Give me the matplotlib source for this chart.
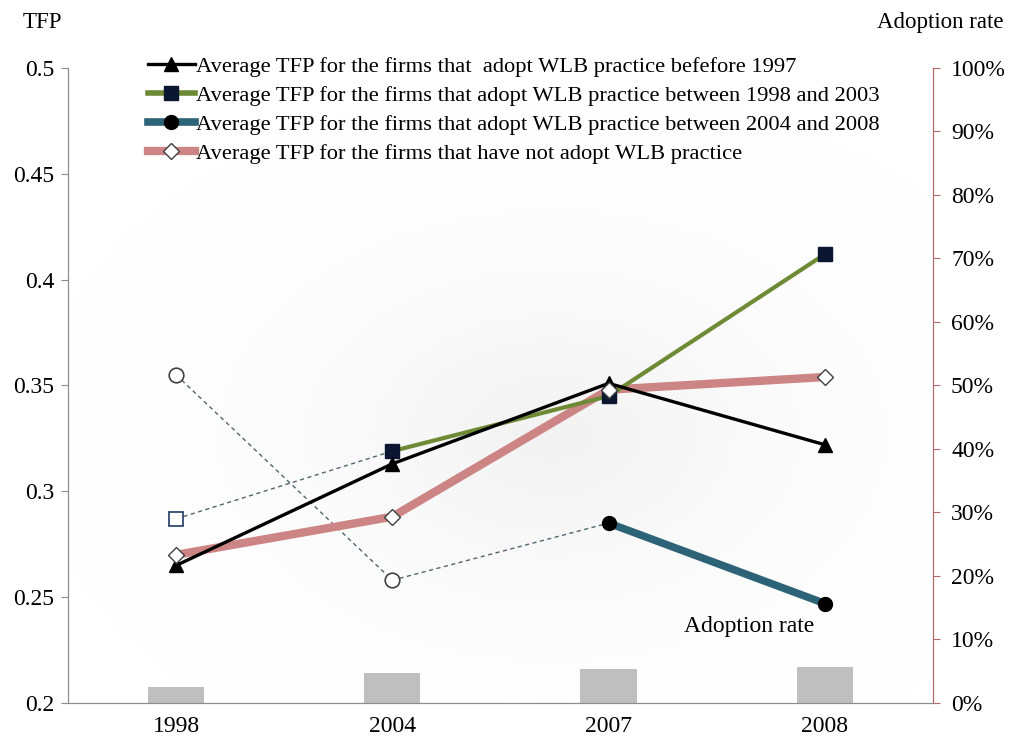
import numpy as np
import matplotlib
matplotlib.use("Agg")
import matplotlib.pyplot as plt
from matplotlib.lines import Line2D

plt.rcParams['font.family'] = ['Liberation Serif', 'DejaVu Serif']

years = ["1998", "2004", "2007", "2008"]
adoption_rate = [2.5, 4.7, 5.3, 5.7]  # percent

tfp_before_1997 = [0.265, 0.313, 0.351, 0.322]
tfp_1998_2003 = [0.287, 0.319, 0.345, 0.412]
tfp_2004_2008 = [0.355, 0.258, 0.285, 0.247]
tfp_not_adopt = [0.270, 0.288, 0.348, 0.354]

labels = [
    "Average TFP for the firms that  adopt WLB practice befefore 1997",
    "Average TFP for the firms that adopt WLB practice between 1998 and 2003",
    "Average TFP for the firms that adopt WLB practice between 2004 and 2008",
    "Average TFP for the firms that have not adopt WLB practice",
]

x = np.arange(len(years))

fig = plt.figure(figsize=(10.11, 7.47), dpi=100)
ax2 = fig.add_axes([0.0673, 0.0589, 0.8555, 0.8501])
ax = ax2.twinx()
ax.set_zorder(ax2.get_zorder() + 1)
ax.patch.set_visible(False)

# soft grey glow behind the plot area
gx, gy = np.meshgrid(np.linspace(0, 1, 300), np.linspace(0, 1, 300))
r = np.sqrt(((gx - 0.56) / 0.60) ** 2 + ((gy - 0.42) / 0.55) ** 2)
shade = 1 - 0.05 * np.clip(1 - r, 0, 1) ** 1.8
ax2.imshow(np.dstack([shade] * 3), extent=(0, 1, 0, 1), transform=ax2.transAxes,
           aspect='auto', zorder=0, interpolation='bilinear', origin='lower')

# adoption-rate bars on the right-hand scale
ax2.bar(x, adoption_rate, width=0.26, color='#bfbfbf', zorder=2)
ax2.set_ylim(0, 100)
ax2.set_xlim(-0.5, 3.5)
ax2.yaxis.tick_right()
ax2.yaxis.set_label_position('right')
ax2.set_yticks(np.arange(0, 101, 10))
ax2.set_yticklabels([f"{v}%" for v in range(0, 101, 10)])

# TFP lines on the left-hand scale
ax.yaxis.tick_left()
ax.set_ylim(0.2, 0.5)
ax.set_xlim(-0.5, 3.5)
ax.set_yticks([0.2, 0.25, 0.3, 0.35, 0.4, 0.45, 0.5])
ax.set_yticklabels(["0.2", "0.25", "0.3", "0.35", "0.4", "0.45", "0.5"])

dash_col = '#50666e'
ax.plot(x[:2], tfp_1998_2003[:2], ls=(0, (3, 2.5)), lw=1, color=dash_col, zorder=3)
ax.plot(x[:3], tfp_2004_2008[:3], ls=(0, (3, 2.5)), lw=1, color=dash_col, zorder=3)

pink = '#cc8584'
ax.plot(x, tfp_not_adopt, color=pink, lw=6, solid_capstyle='butt', zorder=4)
ax.plot(x[1:], tfp_1998_2003[1:], color='#6f8a35', lw=3, zorder=5)
ax.plot(x[2:], tfp_2004_2008[2:], color='#2c6377', lw=5.5, zorder=5)
ax.plot(x, tfp_before_1997, color='black', lw=2.4, zorder=6)

ax.plot(x[1:], tfp_1998_2003[1:], ls='none', marker='s', ms=10, mfc='#0b1630',
        mec='#0b1630', zorder=7)
ax.plot(x[:1], tfp_1998_2003[:1], ls='none', marker='s', ms=10, mfc='white',
        mec='#1f3a60', mew=1.2, zorder=7)
ax.plot(x[2:], tfp_2004_2008[2:], ls='none', marker='o', ms=10, mfc='black',
        mec='black', zorder=7)
ax.plot(x[:2], tfp_2004_2008[:2], ls='none', marker='o', ms=10.5, mfc='white',
        mec='#404040', mew=1.2, zorder=7)
ax.plot(x, tfp_before_1997, ls='none', marker='^', ms=10, mfc='black',
        mec='black', zorder=8)
ax.plot(x, tfp_not_adopt, ls='none', marker='D', ms=8, mfc='white',
        mec='#404040', mew=1.0, zorder=9)

# axes styling
for a in (ax, ax2):
    a.spines['top'].set_visible(False)
ax.spines['left'].set_color('#8c8c8c')
ax.spines['right'].set_color('#b56b6b')
ax.spines['bottom'].set_color('#8c8c8c')
ax2.spines['right'].set_color('#b56b6b')
ax2.spines['left'].set_color('#8c8c8c')
ax2.spines['bottom'].set_color('#8c8c8c')

ax.tick_params(axis='y', labelsize=17, length=5, color='#8c8c8c', pad=5)
ax2.tick_params(axis='y', labelsize=17, length=5, color='#b56b6b', pad=8)
ax2.set_xticks([0.5, 1.5, 2.5])
ax2.set_xticklabels([])
ax2.set_xticks(x, minor=True)
ax2.set_xticklabels(years, minor=True)
ax2.tick_params(axis='x', which='major', length=6, color='#8c8c8c')
ax2.tick_params(axis='x', which='minor', length=0, labelsize=17, pad=9)
ax.set_xticks([])

fig.text(0.042, 0.970, "TFP", fontsize=16.5, ha='center', va='center')
fig.text(0.930, 0.970, "Adoption rate", fontsize=16.5, ha='center', va='center')
ax.text(2.65, 0.236, "Adoption rate", fontsize=17, ha='center', va='center')

handles = [
    Line2D([], [], color='black', lw=2.4, marker='^', ms=10, mfc='black', mec='black'),
    Line2D([], [], color='#6f8a35', lw=4, marker='s', ms=10, mfc='#0b1630', mec='#0b1630'),
    Line2D([], [], color='#2c6377', lw=5.5, marker='o', ms=10, mfc='black', mec='black'),
    Line2D([], [], color=pink, lw=6, marker='D', ms=8, mfc='white', mec='#404040'),
]
fig.legend(handles, labels, loc='upper left', bbox_to_anchor=(0.146, 0.925),
           frameon=False, fontsize=16.2, handlelength=2.1, handletextpad=0.05,
           labelspacing=0.37, borderpad=0, borderaxespad=0)

fig.savefig("out.png", dpi=100)
